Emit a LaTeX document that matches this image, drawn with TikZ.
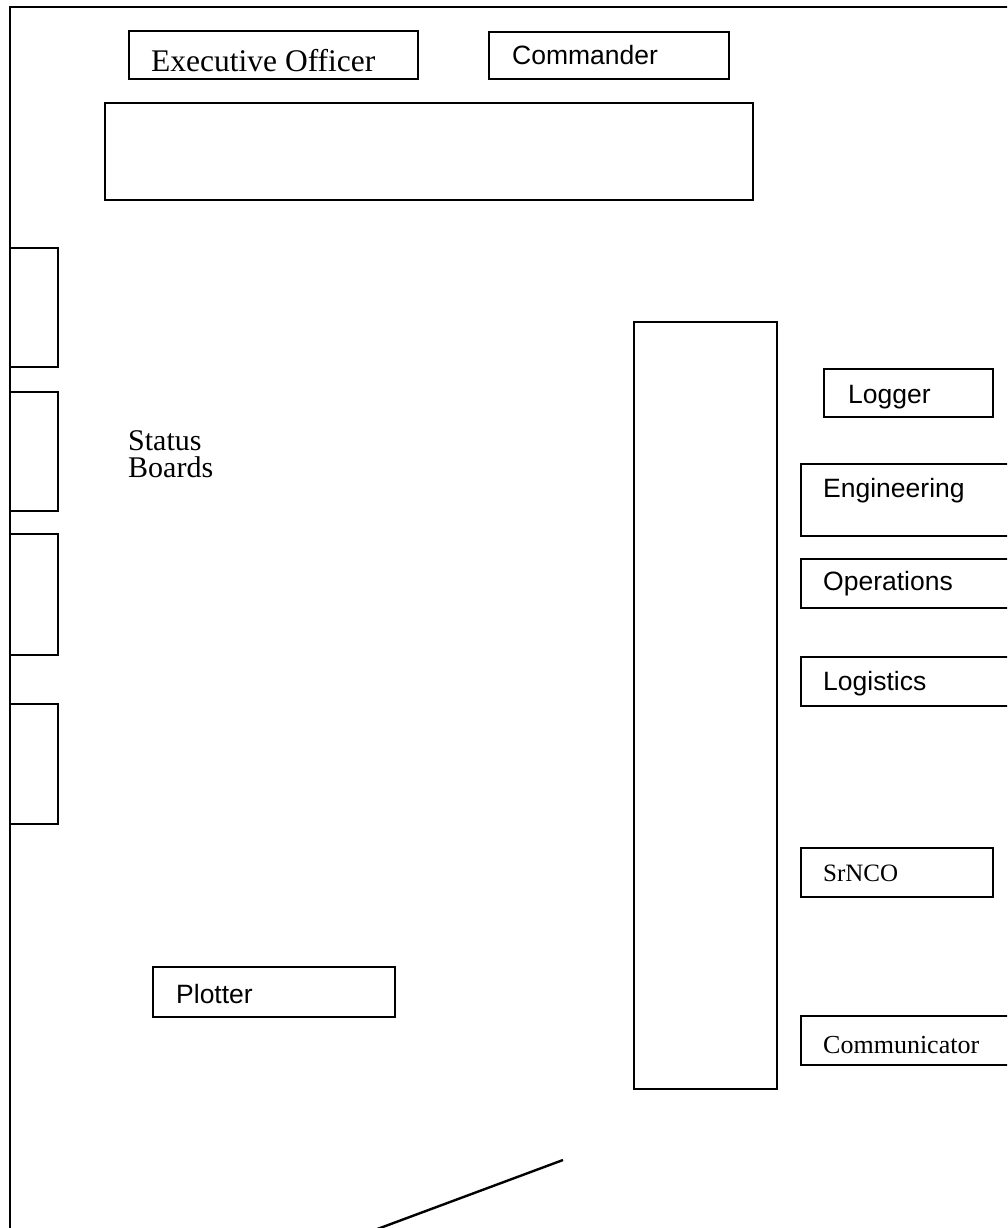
\documentclass[tikz,border=0pt]{standalone}
\usepackage{fontspec}
\setmainfont{Liberation Serif}
\setsansfont{Liberation Sans}
\begin{document}
\begin{tikzpicture}[x=1pt, y=-1pt, line width=2.4pt,
  serif/.style={anchor=base west, inner sep=0pt, font=\fontsize{26}{26}\selectfont},
  sans/.style={anchor=base west, inner sep=0pt, font=\sffamily\fontsize{26.5}{26}\selectfont}]
\clip (0,0) rectangle (1007,1228);

% room walls
\draw (10,1240) -- (10,7) -- (1020,7);
\draw (372,1231) -- (563,1160);

% front of the room
\draw (129,31) rectangle (418,79);
\draw (489,32) rectangle (729,79);
\draw (105,103) rectangle (753,200);
\node[serif, font=\fontsize{31.5}{31}\selectfont] (xo) at (150,72) {Executive Officer};
\node[sans] (cmdr) at (511,65) {Commander};

% status boards on the left wall
\draw (10,248) rectangle (58,367);
\draw (10,392) rectangle (58,511);
\draw (10,534) rectangle (58,655);
\draw (10,704) rectangle (58,824);
\node[serif, font=\fontsize{30}{27}\selectfont, align=left, anchor=north west]
  (boards) at (127,429) {Status\\Boards};

% centre table
\draw (634,322) rectangle (777,1089);

% stations on the right
\draw (824,369) rectangle (993,417);
\draw (801,464) rectangle (1020,536);
\draw (801,559) rectangle (1020,608);
\draw (801,657) rectangle (1020,706);
\draw (801,848) rectangle (993,897);
\draw (801,1016) rectangle (1020,1065);
\node[sans] (logger) at (847,403) {Logger};
\node[sans] (eng) at (822,497) {Engineering};
\node[sans] (ops) at (822,590) {Operations};
\node[sans] (log) at (822,690) {Logistics};
\node[serif, font=\fontsize{25}{25}\selectfont] (srnco) at (822,881) {SrNCO};
\node[serif] (comms) at (822,1053) {Communicator};

% plotter
\draw (153,967) rectangle (395,1017);
\node[sans] (plotter) at (175,1003) {Plotter};
\end{tikzpicture}
\end{document}
